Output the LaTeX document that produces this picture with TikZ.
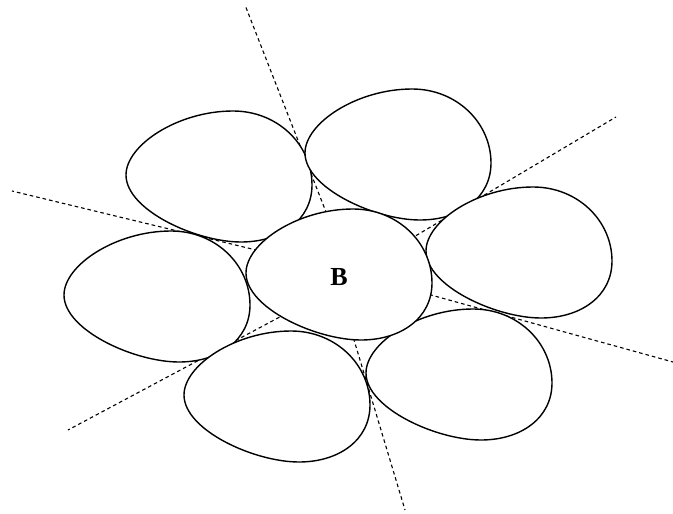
\documentclass[tikz,border=0pt]{standalone}
\usepackage{fontspec}
\setmainfont{Liberation Serif}
\begin{document}
\begin{tikzpicture}[x=1pt,y=-1pt,
  egg/.style={draw=black,line width=1.4pt,fill=white},
  ray/.style={draw=black,line width=1.1pt,dash pattern=on 3.6pt off 3pt},
  lbl/.style={font=\fontsize{26}{30}\selectfont\bfseries,inner sep=0pt}]
\useasboundingbox (0,0) rectangle (673,514);
\newcommand\eggat[1]{\path[egg,shift={(#1)}] (0,64) .. controls (0,34) and (52,0) .. (107,0) .. controls (152,0) and (186,34) .. (186,74) .. controls (186,109) and (155,131) .. (115,131) .. controls (70,131) and (0,99) .. (0,64) -- cycle;}
% ray end points
\coordinate (t1) at (245,5);    \coordinate (t0) at (331.5,226);
\coordinate (b1) at (405,510);  \coordinate (b0) at (349.7,325.6);
\coordinate (ur1) at (616,117); \coordinate (ur0) at (399,245.7);
\coordinate (lr1) at (673,362); \coordinate (lr0) at (416.5,291);
\coordinate (ll1) at (68,430);  \coordinate (ll0) at (291,311);
\coordinate (ul1) at (12,191);  \coordinate (ul0) at (270.6,253.5);
\draw[ray] (t0) -- (t1);
\draw[ray] (b0) -- (b1);
\draw[ray] (ur0) -- (ur1);
\draw[ray] (lr0) -- (lr1);
\draw[ray] (ll0) -- (ll1);
\draw[ray] (ul0) -- (ul1);
% eggs
\eggat{126,111}
\eggat{305,89}
\eggat{64,231}
\eggat{426,187}
\eggat{366,309}
\eggat{184,331}
\eggat{246,209}
\node[lbl] (B) at (339,277) {B};
\end{tikzpicture}
\end{document}
